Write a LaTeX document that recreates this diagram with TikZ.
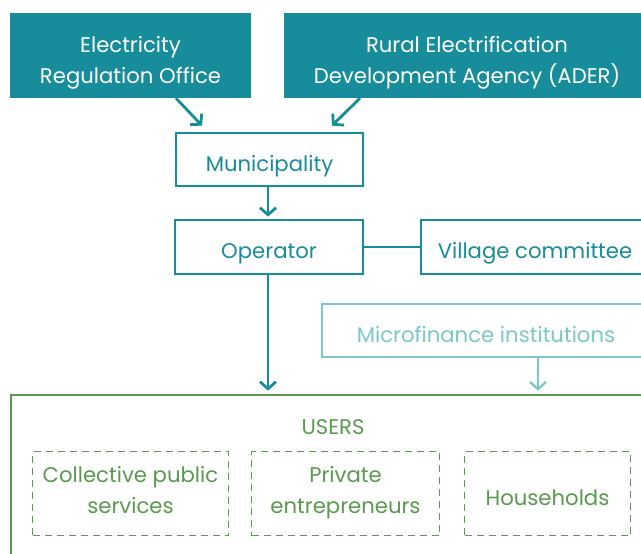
\documentclass[tikz,border=0pt]{standalone}
\usepackage{fontspec}
\setmainfont{Poppins}
\usetikzlibrary{arrows.meta}
\definecolor{tealA}{HTML}{178C9A}
\definecolor{tealL}{HTML}{7CC7C7}
\definecolor{grn}{HTML}{5A9A4E}
\begin{document}
\begin{tikzpicture}[x=1pt,y=-1pt,
  txt/.style={font=\fontsize{21.2}{31}\selectfont, align=center},
  oneline/.style={text height=23.5pt, text depth=0pt},
  twotop/.style={text height=55pt, text depth=0pt},
  twouser/.style={text height=40pt, text depth=0pt},
  topbox/.style={txt, fill=tealA, text=white, inner sep=0pt, twotop},
  midbox/.style={txt, draw=tealA, line width=2.8pt, text=tealA, fill=white, inner sep=0pt, oneline},
  lightbox/.style={txt, draw=tealL, line width=2.4pt, text=tealL, fill=white, inner sep=0pt, oneline},
  usersbox/.style={draw=grn, line width=2.8pt, inner sep=0pt},
  userpart/.style={txt, draw=grn, line width=1.7pt, dash pattern=on 7pt off 5pt, text=grn, inner sep=0pt},
  arr/.style={draw=tealA, line width=2.8pt, -{Straight Barb[length=7pt,width=16pt,line width=2.8pt]}},
  larr/.style={draw=tealL, line width=2.4pt, -{Straight Barb[length=7pt,width=16pt,line width=2.4pt]}},
  link/.style={draw=tealA, line width=2.8pt}
]
\useasboundingbox (0,0) rectangle (641,554);
\fill[white] (0,0) rectangle (641,554);

\node[topbox, minimum width=241pt, minimum height=85pt] (ero) at (130.5,55.5) {Electricity\\Regulation Office};
\node[topbox, minimum width=366pt, minimum height=85pt] (ader) at (467,55.5) {Rural Electrification\\Development Agency (ADER)};

\node[midbox, minimum width=187pt, minimum height=53pt] (muni) at (269.5,159.5) {Municipality};
\node[midbox, minimum width=188pt, minimum height=54pt] (oper) at (269,247) {Operator};
\node[midbox, minimum width=228pt, minimum height=54pt] (vill) at (535,247) {Village committee};
\node[lightbox, minimum width=328pt, minimum height=53pt] (micro) at (486,330.5) {Microfinance institutions};

\node[usersbox, minimum width=644pt, minimum height=184pt] (users) at (333,487) {};
\node[txt, text=grn] (ulabel) at (333,427) {USERS};
\node[userpart, twouser, minimum width=196pt, minimum height=84pt] (coll) at (130.5,493.5) {Collective public\\services};
\node[userpart, twouser, minimum width=188pt, minimum height=84pt] (priv) at (345.5,493.5) {Private\\entrepreneurs};
\node[userpart, oneline, minimum width=166pt, minimum height=84pt] (house) at (547.5,493.5) {Households};

\draw[arr] ([xshift=45.5pt]ero.south) -- ([xshift=-67.5pt,yshift=6pt]muni.north);
\draw[arr] ([xshift=-107pt]ader.south) -- ([xshift=62.5pt,yshift=6pt]muni.north);
\draw[arr] ([xshift=-1.5pt]muni.south) -- ([xshift=-1pt,yshift=2pt]oper.north);
\draw[link] (oper.east) -- (vill.west);
\draw[arr] ([xshift=-1pt]oper.south) -- ([xshift=-65pt,yshift=3pt]users.north);
\draw[larr] ([xshift=52pt]micro.south) -- ([xshift=205pt,yshift=3pt]users.north);
\end{tikzpicture}
\end{document}
